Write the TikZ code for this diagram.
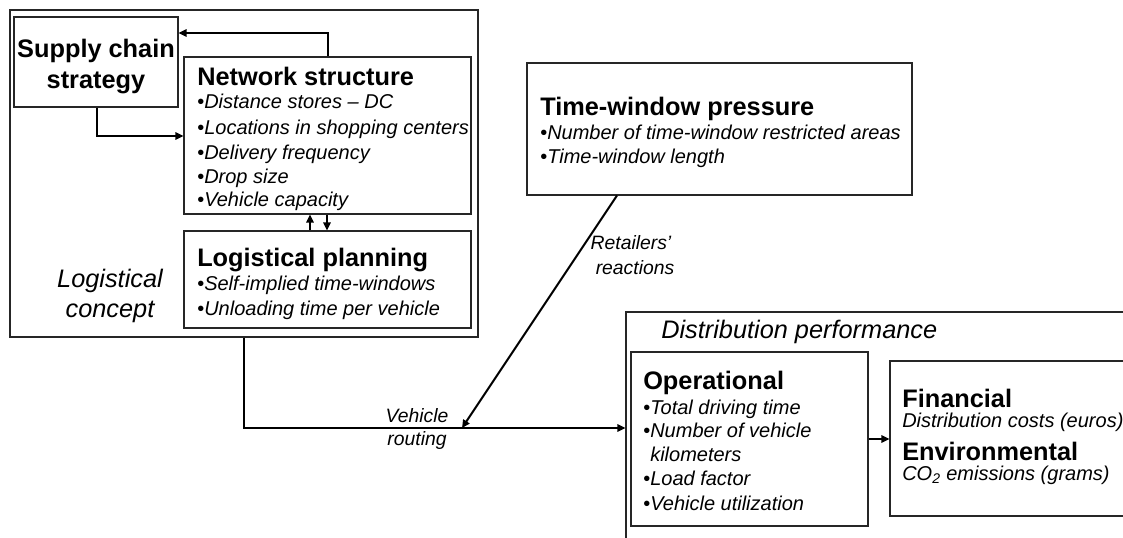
\documentclass[tikz,border=0pt]{standalone}
\usepackage{fontspec}
\setmainfont{Liberation Sans}
\usetikzlibrary{arrows.meta,fit}
\begin{document}
\begin{tikzpicture}[x=0.75pt,y=-0.75pt,
  box/.style={draw=black!85,line width=0.8pt,inner sep=0pt},
  conn/.style={line width=1.5pt},
  arr/.style={conn,-{Triangle[length=6pt,width=5.5pt]}},
  ttl/.style={anchor=base west,inner sep=0pt,font=\fontsize{19}{23}\selectfont\bfseries},
  ttlc/.style={anchor=base,inner sep=0pt,font=\fontsize{19}{23}\selectfont\bfseries},
  bul/.style={anchor=base west,inner sep=0pt,font=\fontsize{15}{18}\selectfont},
  lbl/.style={anchor=base,inner sep=0pt,font=\fontsize{14.5}{17}\selectfont\itshape},
  big/.style={inner sep=0pt,font=\fontsize{19}{23}\selectfont\itshape},
]
\useasboundingbox (0,0) rectangle (1123,538);
\clip (0,0) rectangle (1123,538);

% ---------- boxes ----------
\node[box, fit={(10,10) (478,337)}] (lc) {};
\node[box, fit={(14,17) (178,107)}] (strat) {};
\node[box, fit={(184,57) (471,214)}] (ns) {};
\node[box, fit={(184,231) (471,328)}] (lp) {};
\node[box, fit={(527,63) (912,195)}] (tw) {};
\node[box, fit={(626,312) (1160,580)}] (dp) {};
\node[box, fit={(631,352) (868,526)}] (op) {};
\node[box, fit={(890,361) (1160,516)}] (fin) {};

% ---------- texts ----------
\node[ttlc] (st1) at (96,58) {Supply chain};
\node[ttlc] (st2) at (96,89) {strategy};

\node[ttl] (nst) at (197,86) {Network structure};
\node[bul] (ns1) at (197,109) {•\textit{Distance stores – DC}};
\node[bul] (ns2) at (197,135) {•\textit{Locations in shopping centers}};
\node[bul] (ns3) at (197,160) {•\textit{Delivery frequency}};
\node[bul] (ns4) at (197,184) {•\textit{Drop size}};
\node[bul] (ns5) at (197,207) {•\textit{Vehicle capacity}};

\node[ttl] (lpt) at (197,266) {Logistical planning};
\node[bul] (lp1) at (197,290) {•\textit{Self-implied time-windows}};
\node[bul] (lp2) at (197,315) {•\textit{Unloading time per vehicle}};

\node[big,anchor=base] (lc1) at (110,287) {Logistical};
\node[big,anchor=base] (lc2) at (110,317) {concept};

\node[ttl] (twt) at (540,116) {Time-window pressure};
\node[bul] (tw1) at (540,140) {•\textit{Number of time-window restricted areas}};
\node[bul] (tw2) at (540,164) {•\textit{Time-window length}};

\node[lbl] (rr1) at (631,249) {Retailers’};
\node[lbl] (rr2) at (635,274) {reactions};

\node[lbl] (vr1) at (417,422) {Vehicle};
\node[lbl] (vr2) at (417,445) {routing};

\node[big,anchor=base west] (dpt) at (661,338) {Distribution performance};

\node[ttl] (opt) at (643,389) {Operational};
\node[bul] (op1) at (643,414) {•\textit{Total driving time}};
\node[bul] (op2) at (643,437) {•\textit{Number of vehicle}};
\node[bul] (op3) at (643,461) {\phantom{•}\textit{kilometers}};
\node[bul] (op4) at (643,485) {•\textit{Load factor}};
\node[bul] (op5) at (643,510) {•\textit{Vehicle utilization}};

\node[ttl] (fint) at (902,407) {Financial};
\node[bul] (fin1) at (902,427) {\textit{Distribution costs (euros)}};
\node[ttl] (envt) at (902,460) {Environmental};
\node[bul] (env1) at (902,480) {\textit{CO\textsubscript{2} emissions (grams)}};

% ---------- helper coordinates ----------
\coordinate (tx) at (328,0);
\coordinate (ty) at (0,33);
\coordinate (sx) at (97,0);
\coordinate (my) at (0,136);
\coordinate (ux) at (310,0);
\coordinate (dx) at (327,0);
\coordinate (vx) at (244,0);
\coordinate (vy) at (0,428);
\coordinate (dgx) at (617,0);
\coordinate (dgend) at (462,428);
\coordinate (ay) at (0,439);

% ---------- connectors ----------
\draw[arr] (ns.north -| tx) -- (tx |- ty) -- (strat.east |- ty);
\draw[arr] (strat.south -| sx) -- (sx |- my) -- (ns.west |- my);
\draw[arr] (lp.north -| ux) -- (ns.south -| ux);
\draw[arr] (ns.south -| dx) -- (lp.north -| dx);
\draw[arr] (lc.south -| vx) -- (vx |- vy) -- (dp.west |- vy);
\draw[arr] (tw.south -| dgx) -- (dgend);
\draw[arr] (op.east |- ay) -- (fin.west |- ay);
\end{tikzpicture}
\end{document}
